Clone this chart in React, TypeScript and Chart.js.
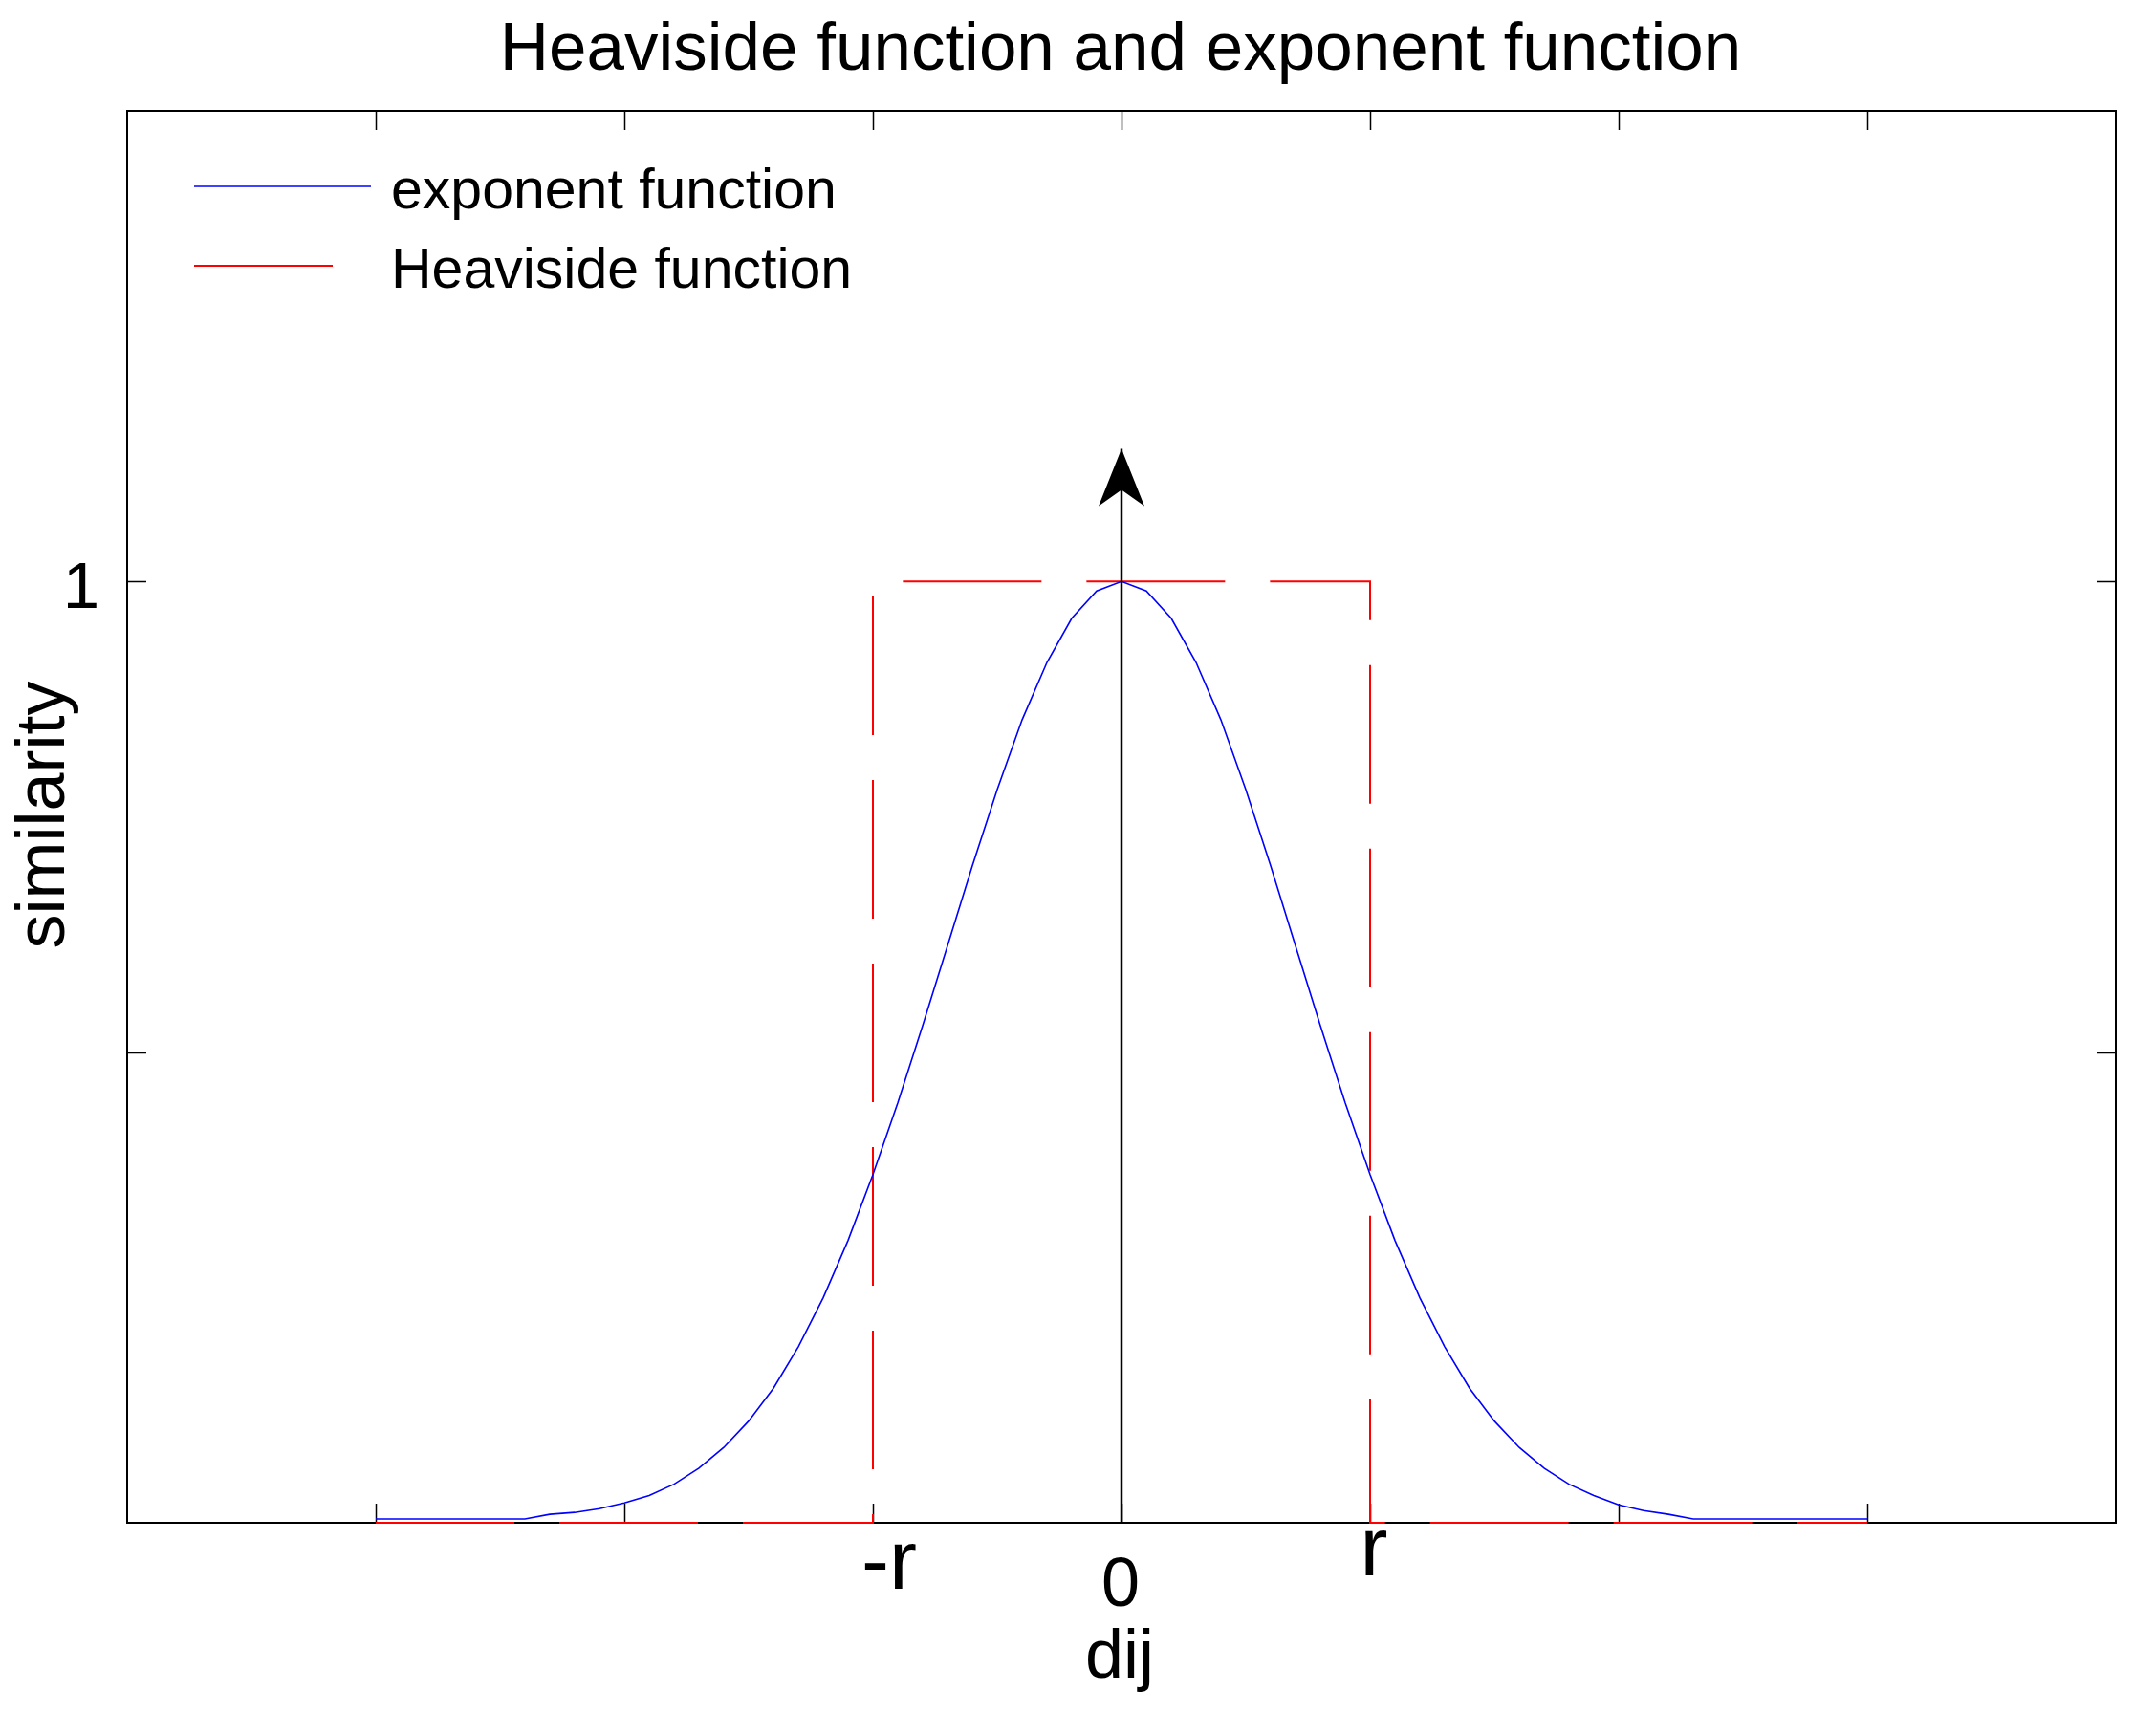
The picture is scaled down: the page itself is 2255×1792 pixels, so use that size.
import React, { useEffect, useRef } from 'react';
import { Chart, registerables } from 'chart.js';

Chart.register(...registerables);

// ---------- data ----------
const TITLE = 'Heaviside function and exponent function';
const X_TITLE = 'dij';
const Y_TITLE = 'similarity';
const SERIES_NAMES = ['exponent function', 'Heaviside function'];

const EXP_X = [
  -3.0, -2.9, -2.8, -2.7, -2.6, -2.5, -2.4, -2.3, -2.2, -2.1,
  -2.0, -1.9, -1.8, -1.7, -1.6, -1.5, -1.4, -1.3, -1.2, -1.1,
  -1.0, -0.9, -0.8, -0.7, -0.6, -0.5, -0.4, -0.3, -0.2, -0.1,
  0.0,
  0.1, 0.2, 0.3, 0.4, 0.5, 0.6, 0.7, 0.8, 0.9, 1.0,
  1.1, 1.2, 1.3, 1.4, 1.5, 1.6, 1.7, 1.8, 1.9, 2.0,
  2.1, 2.2, 2.3, 2.4, 2.5, 2.6, 2.7, 2.8, 2.9, 3.0,
];
const EXP_Y = [
  0.004, 0.004, 0.004, 0.004, 0.004, 0.004, 0.004, 0.009, 0.011, 0.015,
  0.021, 0.029, 0.041, 0.058, 0.080, 0.108, 0.143, 0.187, 0.239, 0.300,
  0.370, 0.446, 0.528, 0.613, 0.698, 0.779, 0.853, 0.914, 0.961, 0.990,
  1.000,
  0.990, 0.961, 0.914, 0.853, 0.779, 0.698, 0.613, 0.528, 0.446, 0.370,
  0.300, 0.239, 0.187, 0.143, 0.108, 0.080, 0.058, 0.041, 0.029, 0.019,
  0.013, 0.009, 0.004, 0.004, 0.004, 0.004, 0.004, 0.004, 0.004, 0.004,
];

const HEAVISIDE_X = [-3, -1, -1, 1, 1, 3];
const HEAVISIDE_Y = [0, 0, 1, 1, 0, 0];

const ARROW_X = [0, 0];
const ARROW_Y = [0, 1.141];

const X_MIN = -4;
const X_MAX = 4;
const Y_MIN = 0;
const Y_MAX = 1.5;
const X_TICKS = [-3, -2, -1, 0, 1, 2, 3];
const Y_TICKS = [0.5, 1];
const X_LABEL_VALUES = [-1, 0, 1];
const X_LABEL_TEXTS = ['-r', '0', 'r'];
const Y_LABEL_VALUES = [1];
const Y_LABEL_TEXTS = ['1'];

// ---------- styles ----------
const FONT = '"Liberation Sans", Arial, Helvetica, sans-serif';
const BLUE = '#0000ff';
const RED = '#ff0000';
const DASH = [145, 47];
const W = 2255;
const H = 1792;
// per-label text style: font size, horizontal shift, baseline below the axis
const X_LABEL_STYLE: Record<string, { size: number; dx: number; dy: number }> = {
  '-r': { size: 87, dx: 17, dy: 69 },
  '0': { size: 72, dx: -1, dy: 87 },
  r: { size: 87, dx: 4, dy: 55 },
};

const pts = (xs: number[], ys: number[]) => xs.map((x, i) => ({ x, y: ys[i] }));

const framePlugin = {
  id: 'frame',
  beforeDatasetsDraw(chart: any) {
    const { ctx, chartArea: a, scales } = chart;
    const xs = scales.x;
    const ys = scales.y;
    ctx.save();
    ctx.strokeStyle = '#000';
    // ticks (inward)
    ctx.lineWidth = 1.5;
    const tl = 20;
    ctx.beginPath();
    X_TICKS.forEach((v) => {
      const px = Math.round(xs.getPixelForValue(v)) + 0.5;
      ctx.moveTo(px, a.bottom);
      ctx.lineTo(px, a.bottom - tl);
      ctx.moveTo(px, a.top);
      ctx.lineTo(px, a.top + tl);
    });
    Y_TICKS.forEach((v) => {
      const py = Math.round(ys.getPixelForValue(v)) + 0.5;
      ctx.moveTo(a.left, py);
      ctx.lineTo(a.left + tl, py);
      ctx.moveTo(a.right, py);
      ctx.lineTo(a.right - tl, py);
    });
    ctx.stroke();
    // box
    ctx.lineWidth = 2;
    ctx.strokeRect(a.left, a.top, a.right - a.left, a.bottom - a.top);
    ctx.restore();
  },
  afterDatasetsDraw(chart: any) {
    const { ctx, chartArea: a, scales } = chart;
    const xs = scales.x;
    const ys = scales.y;
    ctx.save();
    // arrow head
    const tx = xs.getPixelForValue(ARROW_X[1]);
    const ty = ys.getPixelForValue(ARROW_Y[1]);
    ctx.fillStyle = '#000';
    ctx.beginPath();
    ctx.moveTo(tx, ty);
    ctx.lineTo(tx + 24, ty + 60);
    ctx.lineTo(tx, ty + 43);
    ctx.lineTo(tx - 24, ty + 60);
    ctx.closePath();
    ctx.fill();

    // title
    ctx.fillStyle = '#000';
    ctx.textBaseline = 'alphabetic';
    ctx.textAlign = 'center';
    ctx.font = `71px ${FONT}`;
    ctx.fillText(TITLE, (a.left + a.right) / 2 - 1, 73);

    // x tick labels
    X_LABEL_VALUES.forEach((v, i) => {
      const t = X_LABEL_TEXTS[i];
      const st = X_LABEL_STYLE[t];
      ctx.font = `${st.size}px ${FONT}`;
      ctx.fillText(t, xs.getPixelForValue(v) + st.dx, a.bottom + st.dy);
    });

    // y tick labels
    ctx.font = `69px ${FONT}`;
    Y_LABEL_VALUES.forEach((v, i) => {
      ctx.fillText(Y_LABEL_TEXTS[i], 85, ys.getPixelForValue(v) + 28);
    });

    // x title
    ctx.font = `72px ${FONT}`;
    ctx.fillText(X_TITLE, xs.getPixelForValue(0) - 2, a.bottom + 162);

    // y title
    ctx.save();
    ctx.translate(67, (a.top + a.bottom) / 2 - 2);
    ctx.rotate(-Math.PI / 2);
    ctx.font = `72px ${FONT}`;
    ctx.fillText(Y_TITLE, 0, 0);
    ctx.restore();

    // legend (no box)
    const colors = [BLUE, RED];
    const dashes = [[], DASH];
    const widths = [1.5, 2];
    SERIES_NAMES.forEach((name, i) => {
      const ly = 195 + i * 83;
      ctx.save();
      ctx.strokeStyle = colors[i];
      ctx.lineWidth = widths[i];
      ctx.setLineDash(dashes[i]);
      ctx.beginPath();
      ctx.moveTo(203, ly);
      ctx.lineTo(388, ly);
      ctx.stroke();
      ctx.restore();
      ctx.textAlign = 'left';
      ctx.font = `59px ${FONT}`;
      ctx.fillStyle = '#000';
      ctx.fillText(name, 409, ly + 23);
    });
    ctx.restore();
  },
};

export default function App() {
  const ref = useRef<HTMLCanvasElement | null>(null);
  useEffect(() => {
    document.body.style.margin = '0';
    const canvas = ref.current;
    if (!canvas) return;
    const chart = new Chart(canvas, {
      type: 'scatter',
      data: {
        datasets: [
          {
            label: 'arrow',
            data: pts(ARROW_X, ARROW_Y),
            showLine: true,
            borderColor: '#000',
            borderWidth: 2.5,
            pointRadius: 0,
            clip: false,
            order: 0,
          } as any,
          {
            label: SERIES_NAMES[0],
            data: pts(EXP_X, EXP_Y),
            showLine: true,
            borderColor: BLUE,
            borderWidth: 1.6,
            pointRadius: 0,
            tension: 0,
            clip: false,
            order: 1,
          } as any,
          {
            label: SERIES_NAMES[1],
            data: pts(HEAVISIDE_X, HEAVISIDE_Y),
            showLine: true,
            borderColor: RED,
            borderWidth: 2,
            borderDash: DASH,
            borderJoinStyle: 'miter',
            borderCapStyle: 'butt',
            pointRadius: 0,
            tension: 0,
            clip: false,
            order: 2,
          } as any,
        ],
      },
      options: {
        responsive: false,
        animation: false,
        devicePixelRatio: 1,
        layout: { padding: { left: 133, right: W - 2213, top: 116, bottom: H - 1593 } },
        scales: {
          x: { type: 'linear', min: X_MIN, max: X_MAX, display: false },
          y: { type: 'linear', min: Y_MIN, max: Y_MAX, display: false },
        },
        plugins: {
          legend: { display: false },
          tooltip: { enabled: false },
          title: { display: false },
        },
        events: [],
      },
      plugins: [framePlugin],
    });
    return () => chart.destroy();
  }, []);
  return (
    <canvas
      ref={ref}
      width={W}
      height={H}
      style={{ display: 'block', width: `${W}px`, height: `${H}px`, background: '#fff' }}
    />
  );
}
